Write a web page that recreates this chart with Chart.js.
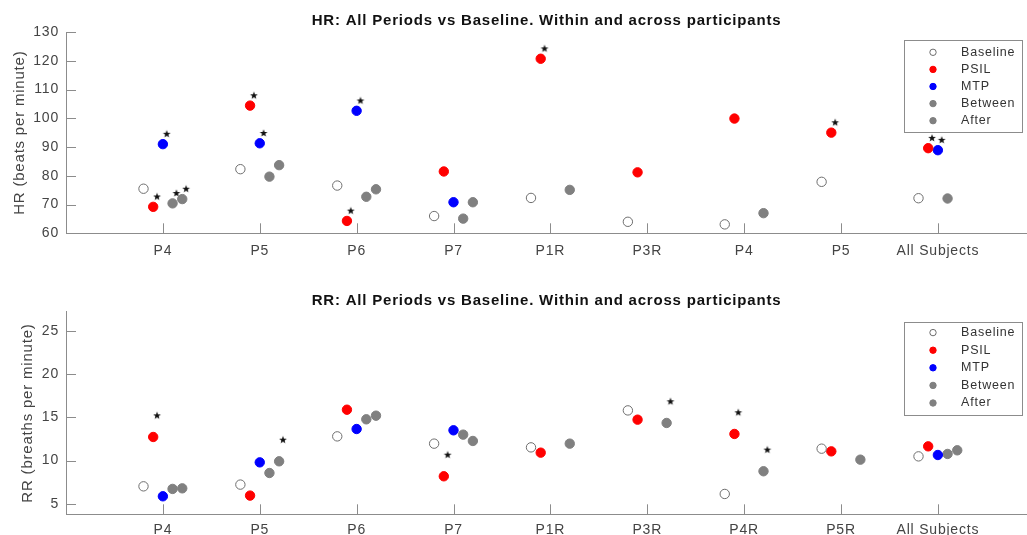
<!DOCTYPE html>
<html>
<head>
<meta charset="utf-8">
<script src="https://cdn.jsdelivr.net/npm/chart.js@4.4.0/dist/chart.umd.min.js"></script>
<style>
  html, body { margin: 0; padding: 0; background: #fff; }
  #wrap { position: relative; width: 1027px; height: 535px; }
  canvas { position: absolute; left: 0; }
</style>
</head>
<body>
<div id="wrap">
  <canvas id="hrChart" width="1027" height="270" style="top:0px"></canvas>
  <canvas id="rrChart" width="1027" height="265" style="top:270px"></canvas>
</div>
<script>
// HR panel
const hrCategories = ["P4", "P5", "P6", "P7", "P1R", "P3R", "P4", "P5", "All Subjects"];
const hrBaseline = [75.5, 82.3, 76.6, 66.0, 72.3, 64.0, 63.1, 77.9, 72.2];
const hrPSIL     = [69.2, 104.4, 64.3, 81.5, 120.7, 81.2, 99.9, 95.0, 89.6];
const hrMTP      = [91.0, 91.3, 102.6, 70.8, null, null, null, null, 88.9];
const hrBetween  = [70.4, 79.7, 72.7, 65.1, null, null, null, null, 72.1];
const hrAfter    = [71.9, 83.7, 75.3, 70.8, 75.1, null, 67.0, null, null];
// significance stars (1 = star above that point)
const hrStarPSIL    = [1, 1, 1, 0, 1, 0, 0, 1, 1];
const hrStarMTP     = [1, 1, 1, 0, 0, 0, 0, 0, 1];
const hrStarBetween = [1, 0, 0, 0, 0, 0, 0, 0, 0];
const hrStarAfter   = [1, 0, 0, 0, 0, 0, 0, 0, 0];
const hrTicks = [60, 70, 80, 90, 100, 110, 120, 130];

// RR panel
const rrCategories = ["P4", "P5", "P6", "P7", "P1R", "P3R", "P4R", "P5R", "All Subjects"];
const rrBaseline = [7.03, 7.23, 12.80, 11.96, 11.53, 15.80, 6.15, 11.38, 10.49];
const rrPSIL     = [12.73, 5.96, 15.88, 8.19, 10.92, 14.73, 13.08, 11.07, 11.65];
const rrMTP      = [5.88, 9.80, 13.65, 13.50, null, null, null, null, 10.65];
const rrBetween  = [6.73, 8.57, 14.77, 13.00, null, null, null, null, 10.77];
const rrAfter    = [6.80, 9.92, 15.19, 12.27, 11.96, 14.35, 8.77, 10.11, 11.19];
const rrStarPSIL  = [1, 0, 0, 1, 0, 0, 1, 0, 0];
const rrStarAfter = [0, 1, 0, 0, 0, 1, 1, 0, 0];
const rrTicks = [5, 10, 15, 20, 25];

const FONT = "'Liberation Sans', Arial, sans-serif";
const AXIS = "#8c8c8c";
const offsets = { Baseline: -0.2, PSIL: -0.1, MTP: 0, Between: 0.1, After: 0.2 };

function toPoints(vals, off) {
  return vals.map((v, i) => v == null ? null : { x: i + 1 + off, y: v }).filter(Boolean);
}
function starPoints(flags, vals, off, dy) {
  return flags.map((f, i) => f ? { x: i + 1 + off + 0.04, y: vals[i] + dy } : null).filter(Boolean);
}

function makeStar() {
  const c = document.createElement("canvas");
  c.width = 10; c.height = 10;
  const g = c.getContext("2d");
  g.fillStyle = "#111";
  g.beginPath();
  for (let k = 0; k < 10; k++) {
    const r = k % 2 ? 1.7 : 4.1;
    const a = -Math.PI / 2 + k * Math.PI / 5;
    const px = 5 + r * Math.cos(a), py = 5.3 + r * Math.sin(a);
    if (k) g.lineTo(px, py); else g.moveTo(px, py);
  }
  g.closePath();
  g.fill();
  return c;
}
const starImg = makeStar();

function series(label, pts, fill, stroke) {
  return {
    label: label, data: pts,
    pointRadius: 4.7, pointBorderWidth: 1,
    pointBackgroundColor: fill, pointBorderColor: stroke,
    backgroundColor: fill, borderColor: stroke
  };
}
function stars(pts) {
  return { label: "*", isStar: true, data: pts, pointStyle: starImg, pointRadius: 5 };
}

// matlab-ish text is a bit wider than Liberation Sans
const spacing = {
  id: "spacing",
  beforeDraw(chart) { chart.ctx.letterSpacing = "0.8px"; }
};

const inwardTicks = {
  id: "inwardTicks",
  beforeDatasetsDraw(chart) {
    const { ctx, chartArea: a, scales: { x, y } } = chart;
    ctx.save();
    ctx.strokeStyle = AXIS; ctx.lineWidth = 1;
    ctx.beginPath();
    x.ticks.forEach(t => {
      const px = Math.round(x.getPixelForValue(t.value)) + 0.5;
      ctx.moveTo(px, a.bottom); ctx.lineTo(px, a.bottom - 10);
    });
    y.ticks.forEach(t => {
      const py = Math.round(y.getPixelForValue(t.value)) + 0.5;
      ctx.moveTo(a.left, py); ctx.lineTo(a.left + 10, py);
    });
    ctx.stroke();
    ctx.restore();
  }
};

const boxLegend = {
  id: "boxLegend",
  afterDraw(chart, args, opts) {
    const { ctx, chartArea } = chart;
    const w = 118, h = opts.height;
    const x0 = Math.round(chartArea.right - 5 - w), y0 = Math.round(chartArea.top + opts.top);
    ctx.save();
    ctx.fillStyle = "#fff";
    ctx.fillRect(x0, y0, w, h);
    ctx.strokeStyle = AXIS; ctx.lineWidth = 1;
    ctx.strokeRect(x0 + 0.5, y0 + 0.5, w, h);
    ctx.font = "12.5px " + FONT;
    ctx.textBaseline = "middle"; ctx.textAlign = "left";
    chart.data.datasets.filter(d => !d.isStar).forEach((d, i) => {
      const cy = y0 + opts.first + i * opts.step;
      ctx.beginPath();
      ctx.arc(x0 + 29, cy, 3.2, 0, 2 * Math.PI);
      ctx.fillStyle = d.pointBackgroundColor; ctx.fill();
      ctx.strokeStyle = d.pointBorderColor; ctx.stroke();
      ctx.fillStyle = "#333";
      ctx.fillText(d.label, x0 + 57, cy);
    });
    ctx.restore();
  }
};

function build(id, cfg) {
  const datasets = [
    series("Baseline", toPoints(cfg.baseline, offsets.Baseline), "#ffffff", "#6e6e6e"),
    series("PSIL", toPoints(cfg.psil, offsets.PSIL), "#ff0000", "#ff0000"),
    series("MTP", toPoints(cfg.mtp, offsets.MTP), "#0000ff", "#0000ff"),
    series("Between", toPoints(cfg.between, offsets.Between), "#808080", "#808080"),
    series("After", toPoints(cfg.after, offsets.After), "#808080", "#808080")
  ].concat(cfg.stars.map(stars));

  return new Chart(document.getElementById(id), {
    type: "scatter",
    data: { datasets: datasets },
    options: {
      responsive: false,
      animation: false,
      devicePixelRatio: 1,
      events: [],
      layout: { autoPadding: false, padding: 0 },
      plugins: {
        legend: { display: false },
        tooltip: { enabled: false },
        title: {
          display: true, text: cfg.title, color: "#111", fullSize: false,
          font: { family: FONT, size: 15, weight: "bold" },
          padding: cfg.titlePad
        },
        boxLegend: cfg.legend
      },
      scales: {
        x: {
          type: "linear", min: 0, max: 9.92,
          afterBuildTicks: s => { s.ticks = cfg.categories.map((c, i) => ({ value: i + 1 })); },
          afterFit: s => { s.height = cfg.xHeight; s.paddingLeft = 0; s.paddingRight = 0; },
          ticks: {
            autoSkip: false, maxRotation: 0, padding: cfg.xPad, color: "#444",
            font: { family: FONT, size: 14 },
            callback: (v, i) => cfg.categories[i]
          },
          grid: { display: false, drawTicks: false },
          border: { display: true, color: AXIS }
        },
        y: {
          min: cfg.yMin, max: cfg.yMax,
          afterBuildTicks: s => { s.ticks = cfg.yTicks.map(v => ({ value: v })); },
          afterFit: s => { s.width = 66; s.paddingTop = 0; s.paddingBottom = 0; },
          ticks: { padding: 7, color: "#444", font: { family: FONT, size: 14 } },
          grid: { display: false, drawTicks: false },
          border: { display: true, color: AXIS },
          title: {
            display: true, text: cfg.yLabel, color: "#444",
            font: { family: FONT, size: 15 },
            padding: { top: cfg.yTitlePad, bottom: 0 }
          }
        }
      }
    },
    plugins: [spacing, inwardTicks, boxLegend]
  });
}

build("hrChart", {
  title: "HR: All Periods vs Baseline. Within and across participants",
  titlePad: { top: 12, bottom: 2 },
  categories: hrCategories,
  baseline: hrBaseline, psil: hrPSIL, mtp: hrMTP, between: hrBetween, after: hrAfter,
  stars: [
    starPoints(hrStarPSIL, hrPSIL, offsets.PSIL, 3.6),
    starPoints(hrStarMTP, hrMTP, offsets.MTP, 3.6),
    starPoints(hrStarBetween, hrBetween, offsets.Between, 3.6),
    starPoints(hrStarAfter, hrAfter, offsets.After, 3.6)
  ],
  yMin: 60, yMax: 130, yTicks: hrTicks,
  yLabel: "HR (beats per minute)", yTitlePad: 11,
  xHeight: 36.7, xPad: 9,
  legend: { top: 8, height: 92, first: 12.3, step: 17.1 }
});

build("rrChart", {
  title: "RR: All Periods vs Baseline. Within and across participants",
  titlePad: { top: 22, bottom: 1.7 },
  categories: rrCategories,
  baseline: rrBaseline, psil: rrPSIL, mtp: rrMTP, between: rrBetween, after: rrAfter,
  stars: [
    starPoints(rrStarPSIL, rrPSIL, offsets.PSIL, 2.5),
    starPoints(rrStarAfter, rrAfter, offsets.After, 2.5)
  ],
  yMin: 3.8, yMax: 27.2, yTicks: rrTicks,
  yLabel: "RR (breaths per minute)", yTitlePad: 19,
  xHeight: 20.7, xPad: 7,
  legend: { top: 10, height: 93, first: 10.6, step: 17.6 }
});
</script>
</body>
</html>
